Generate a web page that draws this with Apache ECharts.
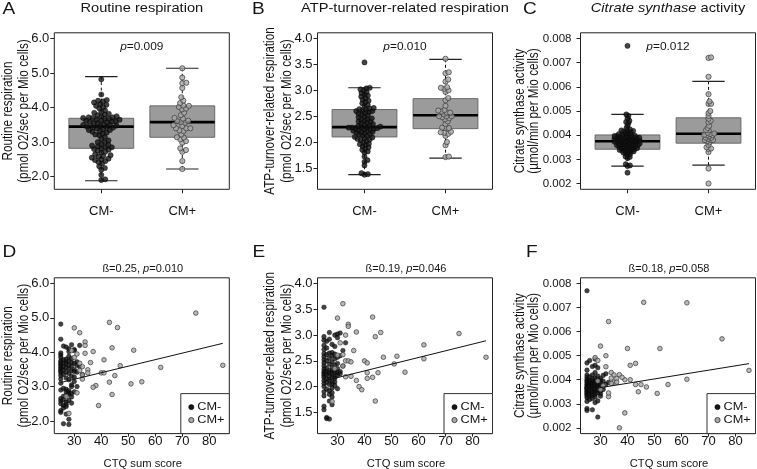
<!DOCTYPE html>
<html><head><meta charset="utf-8">
<script src="https://cdn.jsdelivr.net/npm/echarts/dist/echarts.min.js"></script>
<style>html,body{margin:0;padding:0;background:#fff}#c{width:757px;height:469px}</style>
</head><body><div id="c"></div>
<script>
// ---------------- data ----------------
const groups = ['CM-', 'CM+'];
const titles = ['Routine respiration', 'ATP-turnover-related respiration', 'Citrate synthase activity'];
const yNames = [
  ['Routine respiration', '(pmol O2/sec per Mio cells)'],
  ['ATP-turnover-related respiration', '(pmol O2/sec per Mio cells)'],
  ['Citrate synthase activity', '(µmol/min per Mio cells)']
];
const xName = 'CTQ sum score';
const yTicksResp = [2.0, 3.0, 4.0, 5.0, 6.0];
const yTicksAtp = [1.5, 2.0, 2.5, 3.0, 3.5, 4.0];
const yTicksCs = [0.002, 0.003, 0.004, 0.005, 0.006, 0.007, 0.008];
const xTicksCtq = [30, 40, 50, 60, 70, 80];
const pTop = ['0.009', '0.010', '0.012'];
const betaBottom = ['0.25', '0.19', '0.18'];
const pBottom = ['0.010', '0.046', '0.058'];

// box stats [lower whisker, Q1, median, Q3, upper whisker] for CM-, CM+
const boxResp = [[1.88, 2.82, 3.45, 3.69, 4.90], [2.22, 3.14, 3.58, 4.05, 5.14]];
const boxAtp = [[1.37, 2.10, 2.29, 2.63, 3.05], [1.69, 2.26, 2.52, 2.84, 3.60]];
const boxCs = [[0.00272, 0.00342, 0.00375, 0.00401, 0.00486], [0.00276, 0.00367, 0.00406, 0.00472, 0.00623]];

// [CTQ sum score, value]
const respMinus = [
 [25,4.82],[25,4.38],[25,3.98],[25,3.92],[25,3.85],[25,3.75],[25,3.70],[25,3.65],[25,3.60],[25,3.55],[25,3.50],[25,3.45],[25,3.40],[25,3.32],[25,3.22],[25,3.10],[25,2.90],[25,2.65],[25,2.58],[25,2.50],[25,2.30],[25,2.25],
 [26,4.18],[26,3.78],[26,3.68],[26,3.58],[26,3.48],[26,3.35],[26,2.95],[26,2.72],[26,2.62],[26,2.45],[26,2.38],[26,1.92],
 [27,4.15],[27,3.80],[27,3.72],[27,3.66],[27,3.55],[27,3.42],[27,3.25],[27,2.92],[27,2.85],[27,2.75],[27,2.55],[27,2.48],[27,2.42],[27,2.20],
 [28,4.10],[28,4.02],[28,3.88],[28,3.75],[28,3.62],[28,3.52],[28,3.38],[28,3.20],[28,2.88],[28,2.82],[28,2.78],[28,2.60],[28,2.05],[28,1.90],
 [29,4.22],[29,3.82],[29,3.70],[29,3.60],[29,3.46],[29,3.30],[29,3.05],[29,3.00],[29,2.80],[29,2.70],[29,2.52],
 [30,4.08],[30,4.05],[30,3.68],[30,3.50],[30,3.44],[30,3.28],[30,3.15],[30,2.85],
 [31,3.72],[31,3.62],[31,3.42],[31,3.00],
 [32,4.20],[32,3.58],
 [33,3.35]
];
const respPlus = [
 [43,4.87],[46,4.72],[30,4.71],[32,4.57],[34,4.30],[34,4.20],[44,4.13],[37,4.02],[34,3.97],[32,3.68],[41,3.78],[47,3.61],[35,3.49],[35,3.40],[33,3.34],[40,3.40],[41,3.40],[43,3.13],[45,3.32],[38,3.03],[37,2.98],[44,2.77],[39,2.45],[31,2.82],[33,3.22],[32,3.47],[75,5.14],[52,4.06],[62,3.56],[85,3.62],[51,3.08],[55,3.14],[28,2.22],[30,3.85],[36,3.70],[29,4.05],[31,3.95],[33,3.58],[27,2.72]
];
const atpMinus = [
 [25,3.54],[25,2.97],[25,2.90],[25,2.80],[25,2.72],[25,2.64],[25,2.58],[25,2.52],[25,2.46],[25,2.40],[25,2.34],[25,2.29],[25,2.26],[25,2.22],[25,2.18],[25,2.12],[25,2.06],[25,2.00],[25,1.90],[25,1.82],[25,1.62],[25,1.55],
 [26,2.88],[26,2.75],[26,2.62],[26,2.50],[26,2.36],[26,2.28],[26,2.24],[26,2.15],[26,2.08],[26,1.95],[26,1.40],[26,1.38],
 [27,3.05],[27,2.92],[27,2.65],[27,2.55],[27,2.44],[27,2.31],[27,2.27],[27,2.20],[27,2.13],[27,2.04],[27,1.92],[27,1.85],[27,1.72],[27,1.37],
 [28,2.82],[28,2.66],[28,2.60],[28,2.48],[28,2.38],[28,2.30],[28,2.25],[28,2.19],[28,2.10],[28,2.05],[28,1.97],[28,1.88],[28,1.80],[28,1.65],
 [29,3.00],[29,2.78],[29,2.63],[29,2.54],[29,2.42],[29,2.32],[29,2.28],[29,2.20],[29,2.16],[29,2.09],[29,2.02],
 [30,3.02],[30,2.95],[30,2.57],[30,2.45],[30,2.35],[30,2.27],[30,2.22],[30,1.96],
 [31,3.04],[31,2.60],[31,2.29],[31,2.25],
 [32,2.70],[32,2.40],
 [33,2.85]
];
const atpPlus = [
 [32,3.61],[30,3.33],[34,3.21],[34,3.17],[43,3.35],[44,2.97],[46,3.05],[37,3.06],[33,3.00],[47,2.57],[30,2.61],[32,2.62],[33,2.50],[34,2.50],[35,2.48],[40,2.50],[41,2.46],[33,2.19],[35,2.20],[37,2.12],[38,2.00],[39,1.94],[41,2.27],[41,2.16],[43,2.18],[45,2.27],[44,1.72],[28,1.71],[75,3.03],[62,2.81],[52,2.59],[62,2.54],[51,2.44],[55,2.28],[85,2.57],[31,2.85],[29,2.35],[36,2.70],[32,2.40]
];
const csMinus = [
 [25,0.00770],[25,0.00470],[25,0.00440],[25,0.00420],[25,0.00410],[25,0.00400],[25,0.00395],[25,0.00388],[25,0.00380],[25,0.00374],[25,0.00368],[25,0.00362],[25,0.00355],[25,0.00350],[25,0.00345],[25,0.00340],[25,0.00333],[25,0.00325],[25,0.00310],[25,0.00280],[25,0.00272],[25,0.00365],
 [26,0.00480],[26,0.00412],[26,0.00398],[26,0.00390],[26,0.00382],[26,0.00376],[26,0.00370],[26,0.00358],[26,0.00348],[26,0.00338],[26,0.00330],[26,0.00318],
 [27,0.00455],[27,0.00420],[27,0.00402],[27,0.00392],[27,0.00385],[27,0.00378],[27,0.00372],[27,0.00366],[27,0.00360],[27,0.00352],[27,0.00343],[27,0.00336],[27,0.00322],[27,0.00275],
 [28,0.00486],[28,0.00460],[28,0.00430],[28,0.00408],[28,0.00396],[28,0.00386],[28,0.00380],[28,0.00373],[28,0.00363],[28,0.00356],[28,0.00347],[28,0.00339],[28,0.00328],[28,0.00305],
 [29,0.00450],[29,0.00415],[29,0.00399],[29,0.00391],[29,0.00384],[29,0.00377],[29,0.00368],[29,0.00357],[29,0.00346],[29,0.00312],[29,0.00245],
 [30,0.00405],[30,0.00397],[30,0.00388],[30,0.00375],[30,0.00364],[30,0.00353],[30,0.00342],[30,0.00332],
 [31,0.00418],[31,0.00394],[31,0.00371],[31,0.00359],
 [32,0.00425],[32,0.00381],
 [33,0.00389]
];
const csPlus = [
 [46,0.00722],[33,0.00642],[30,0.00540],[40,0.00530],[32,0.00500],[28,0.00492],[29,0.00480],[41,0.00460],[43,0.00468],[32,0.00454],[34,0.00430],[35,0.00420],[37,0.00421],[34,0.00407],[35,0.00390],[41,0.00400],[39,0.00400],[43,0.00380],[45,0.00380],[44,0.00350],[47,0.00370],[33,0.00330],[39,0.00262],[37,0.00200],[62,0.00720],[75,0.00570],[52,0.00530],[62,0.00402],[55,0.00380],[51,0.00343],[85,0.00439],[36,0.00405],[36,0.00390],[31,0.00375],[30,0.00360],[33,0.00345],[34,0.00385],[38,0.00410],[29,0.00395]
];
// regression line end points [CTQ, fitted value]
const fitResp = [[25, 3.12], [85, 4.26]];
const fitAtp = [[25, 2.11], [85, 2.89]];
const fitCs = [[25, 0.00358], [85, 0.00467]];

// ---------------- layout ----------------
const FONT = '"Liberation Sans", Arial, Helvetica, sans-serif';
const TXT = '#141414';
const colLeft = [54.3, 317.5, 580.5];
const W = 175;
const topRow = {top: 32.8, height: 156.5};
const botRow = {top: 277.8, height: 155.8};
const boxX = [0.42, 2.58];
const ctqX = [22.6, 87.4];
const yRanges = [[1.632, 6.168], [1.088, 4.112], [0.00176, 0.00824]];
const yTicks = [yTicksResp, yTicksAtp, yTicksCs];
const yDec = [1, 1, 3];
const yLabSize = [13, 13, 11.5];
const yLabMargin = [5, 5, 9];
const nameOff = [[-46, -30.3], [-47.5, -30.2], [-60.5, -46.8]];
const collide = [4.0, 3.4, 2.6];
const boxes = [boxResp, boxAtp, boxCs];
const minus = [respMinus, atpMinus, csMinus];
const plus = [respPlus, atpPlus, csPlus];
const fits = [fitResp, fitAtp, fitCs];
const letters = [['A', 2.5, 9.5], ['B', 252, 9.5], ['C', 523, 9.5], ['D', 2.5, 252.5], ['E', 252.5, 252.5], ['F', 526, 252.5]];

const minusStyle = {color: '#151515', borderColor: '#000', borderWidth: 0.5};
const plusStyle = {color: '#a8a8a8', borderColor: '#3a3a3a', borderWidth: 0.9};

function swarm(vals, center, yr, hPx, d) {
  const pyu = hPx / (yr[1] - yr[0]);
  const pxu = W / (boxX[1] - boxX[0]);
  const pts = vals.map(v => ({v: v, y: v * pyu})).sort((a, b) => a.y - b.y);
  const placed = [];
  for (const p of pts) {
    const near = placed.filter(q => Math.abs(q.y - p.y) < d);
    const cands = [0];
    for (const q of near) {
      const dx = Math.sqrt(d * d - (q.y - p.y) * (q.y - p.y));
      cands.push(q.x + dx, q.x - dx);
    }
    cands.sort((a, b) => Math.abs(a) - Math.abs(b));
    let best = 0;
    for (const c of cands) {
      if (near.every(q => (q.x - c) * (q.x - c) + (q.y - p.y) * (q.y - p.y) >= d * d - 1e-6)) { best = c; break; }
    }
    p.x = best; placed.push(p);
  }
  return placed.map(p => [center + p.x / pxu, p.v]);
}

const grids = [], xAxes = [], yAxes = [], series = [], graphics = [];
const axisTickStyle = {color: '#222', width: 1};

function txt(x, y, text, size, o) {
  o = o || {};
  const el = {
    type: 'text', x: x, y: y, silent: true,
    rotation: o.rot || 0,
    scaleX: o.sx || 1, scaleY: o.sy || 1,
    style: {text: text, fill: TXT, fontFamily: FONT, fontSize: size,
      align: o.align || 'center', verticalAlign: 'middle'}
  };
  if (o.rich) el.style.rich = o.rich;
  return el;
}
function richSet(size) {
  return {
    i: {fontStyle: 'italic', fontFamily: FONT, fontSize: size, fill: TXT},
    n: {fontFamily: FONT, fontSize: size, fill: TXT}
  };
}

for (let r = 0; r < 2; r++) {
  for (let c = 0; c < 3; c++) {
    const gi = r * 3 + c;
    const row = r === 0 ? topRow : botRow;
    grids.push({left: colLeft[c], top: row.top, width: W, height: row.height,
      show: true, borderColor: '#222', borderWidth: 1, backgroundColor: 'transparent', containLabel: false});
    if (r === 0) {
      xAxes.push({type: 'value', gridIndex: gi, min: boxX[0], max: boxX[1],
        axisLine: {show: false}, splitLine: {show: false},
        axisTick: {show: true, customValues: [1, 2], length: 4, lineStyle: axisTickStyle},
        axisLabel: {customValues: [1, 2], formatter: v => groups[Math.round(v) - 1], margin: 15.5,
          fontFamily: FONT, fontSize: 13, color: TXT}});
    } else {
      xAxes.push({type: 'value', gridIndex: gi, min: ctqX[0], max: ctqX[1],
        axisLine: {show: false}, splitLine: {show: false},
        axisTick: {show: true, customValues: xTicksCtq, length: 3, lineStyle: axisTickStyle},
        axisLabel: {customValues: xTicksCtq, margin: 1, fontFamily: FONT, fontSize: 13, color: TXT}});
    }
    yAxes.push({type: 'value', gridIndex: gi, min: yRanges[c][0], max: yRanges[c][1],
      axisLine: {show: false}, splitLine: {show: false},
      axisTick: {show: true, customValues: yTicks[c], length: 4, lineStyle: axisTickStyle},
      axisLabel: {customValues: yTicks[c], formatter: v => v.toFixed(yDec[c]), margin: yLabMargin[c],
        fontFamily: FONT, fontSize: yLabSize[c], color: TXT}});

    const cx = colLeft[c] + W / 2;
    const cy = row.top + row.height / 2;
    graphics.push(txt(colLeft[c] + nameOff[c][0], cy, yNames[c][0], 11.8, {rot: Math.PI / 2, sy: 1.22}));
    graphics.push(txt(colLeft[c] + nameOff[c][1], cy, yNames[c][1], 11.8, {rot: Math.PI / 2, sy: 1.22}));

    if (r === 0) {
      series.push({
        type: 'custom', xAxisIndex: gi, yAxisIndex: gi, silent: true, z: 2,
        data: boxes[c].map((s, k) => [k + 1].concat(s)),
        encode: {x: 0, y: [1, 2, 3, 4, 5]},
        renderItem: (params, api) => {
          const x = api.value(0), lo = api.value(1), q1 = api.value(2), md = api.value(3), q3 = api.value(4), hi = api.value(5);
          const tl = api.coord([x - 0.4, q3]), br = api.coord([x + 0.4, q1]);
          const mL = api.coord([x - 0.4, md]), mR = api.coord([x + 0.4, md]);
          const pHi = api.coord([x, hi]), pLo = api.coord([x, lo]), pQ3 = api.coord([x, q3]), pQ1 = api.coord([x, q1]);
          const cHL = api.coord([x - 0.2, hi]), cHR = api.coord([x + 0.2, hi]);
          const cLL = api.coord([x - 0.2, lo]), cLR = api.coord([x + 0.2, lo]);
          const ws = {stroke: '#111', lineWidth: 1, lineDash: [3, 2.5]};
          return {type: 'group', children: [
            {type: 'line', shape: {x1: pHi[0], y1: pHi[1], x2: pQ3[0], y2: pQ3[1]}, style: ws},
            {type: 'line', shape: {x1: pLo[0], y1: pLo[1], x2: pQ1[0], y2: pQ1[1]}, style: ws},
            {type: 'line', shape: {x1: cHL[0], y1: cHL[1], x2: cHR[0], y2: cHR[1]}, style: {stroke: '#222', lineWidth: 1.2}},
            {type: 'line', shape: {x1: cLL[0], y1: cLL[1], x2: cLR[0], y2: cLR[1]}, style: {stroke: '#222', lineWidth: 1.2}},
            {type: 'rect', shape: {x: tl[0], y: tl[1], width: br[0] - tl[0], height: br[1] - tl[1]},
              style: {fill: '#9b9b9b', stroke: '#6a6a6a', lineWidth: 1}},
            {type: 'line', shape: {x1: mL[0], y1: mL[1], x2: mR[0], y2: mR[1]}, style: {stroke: '#000', lineWidth: 2.6}}
          ]};
        }
      });
      series.push({type: 'scatter', xAxisIndex: gi, yAxisIndex: gi, silent: true, z: 3,
        symbolSize: 5.2, itemStyle: minusStyle,
        data: swarm(minus[c].map(d => d[1]), 1, yRanges[c], row.height, collide[c])});
      series.push({type: 'scatter', xAxisIndex: gi, yAxisIndex: gi, silent: true, z: 3,
        symbolSize: 5.2, itemStyle: plusStyle,
        data: swarm(plus[c].map(d => d[1]), 2, yRanges[c], row.height, collide[c])});
      const t = c === 2 ? '{i|Citrate synthase}{n| activity}' : '{n|' + titles[c] + '}';
      graphics.push(txt(cx, 8.4, t, 12.4, {sx: 1.18, rich: richSet(12.4)}));
      graphics.push(txt(cx, 47, '{i|p}{n|=' + pTop[c] + '}', 11, {sx: 1.08, rich: richSet(11)}));
    } else {
      series.push({type: 'scatter', xAxisIndex: gi, yAxisIndex: gi, silent: true, z: 3,
        symbolSize: 4.6, itemStyle: minusStyle, data: minus[c]});
      series.push({type: 'scatter', xAxisIndex: gi, yAxisIndex: gi, silent: true, z: 3,
        symbolSize: 4.6, itemStyle: plusStyle, data: plus[c]});
      series.push({type: 'line', xAxisIndex: gi, yAxisIndex: gi, silent: true, z: 4,
        showSymbol: false, symbol: 'none', lineStyle: {color: '#111', width: 1}, data: fits[c]});
      graphics.push(txt(cx + 1, 269, '{n|ß=' + betaBottom[c] + ', }{i|p}{n|=' + pBottom[c] + '}', 10.4, {sx: 1.06, rich: richSet(10.4)}));
      graphics.push(txt(cx + 1, 463.5, xName, 11.8, {sx: 0.95}));
      const lx = colLeft[c] + W - 48.5, ly = row.top + row.height - 40;
      graphics.push({type: 'rect', silent: true, z: 10, shape: {x: lx, y: ly, width: 48.5, height: 40},
        style: {fill: '#fff', stroke: '#333', lineWidth: 1}});
      graphics.push({type: 'circle', silent: true, z: 11, shape: {cx: lx + 10.5, cy: ly + 13.5, r: 2.6},
        style: {fill: minusStyle.color, stroke: '#000', lineWidth: 0.5}});
      graphics.push({type: 'circle', silent: true, z: 11, shape: {cx: lx + 10.5, cy: ly + 26.5, r: 2.6},
        style: {fill: plusStyle.color, stroke: plusStyle.borderColor, lineWidth: 0.9}});
      const t1 = txt(lx + 16.5, ly + 13.5, groups[0], 11.8, {sx: 1.08, align: 'left'}); t1.z = 11;
      const t2 = txt(lx + 16.5, ly + 26.5, groups[1], 11.8, {sx: 1.08, align: 'left'}); t2.z = 11;
      graphics.push(t1, t2);
    }
  }
}
letters.forEach(l => graphics.push(txt(l[1], l[2], l[0], 17, {sx: 1.12, align: 'left'})));

const chart = echarts.init(document.getElementById('c'), null, {renderer: 'canvas'});
chart.setOption({
  animation: false,
  backgroundColor: '#fff',
  grid: grids, xAxis: xAxes, yAxis: yAxes, series: series,
  graphic: {elements: graphics}
});
</script>
</body></html>
